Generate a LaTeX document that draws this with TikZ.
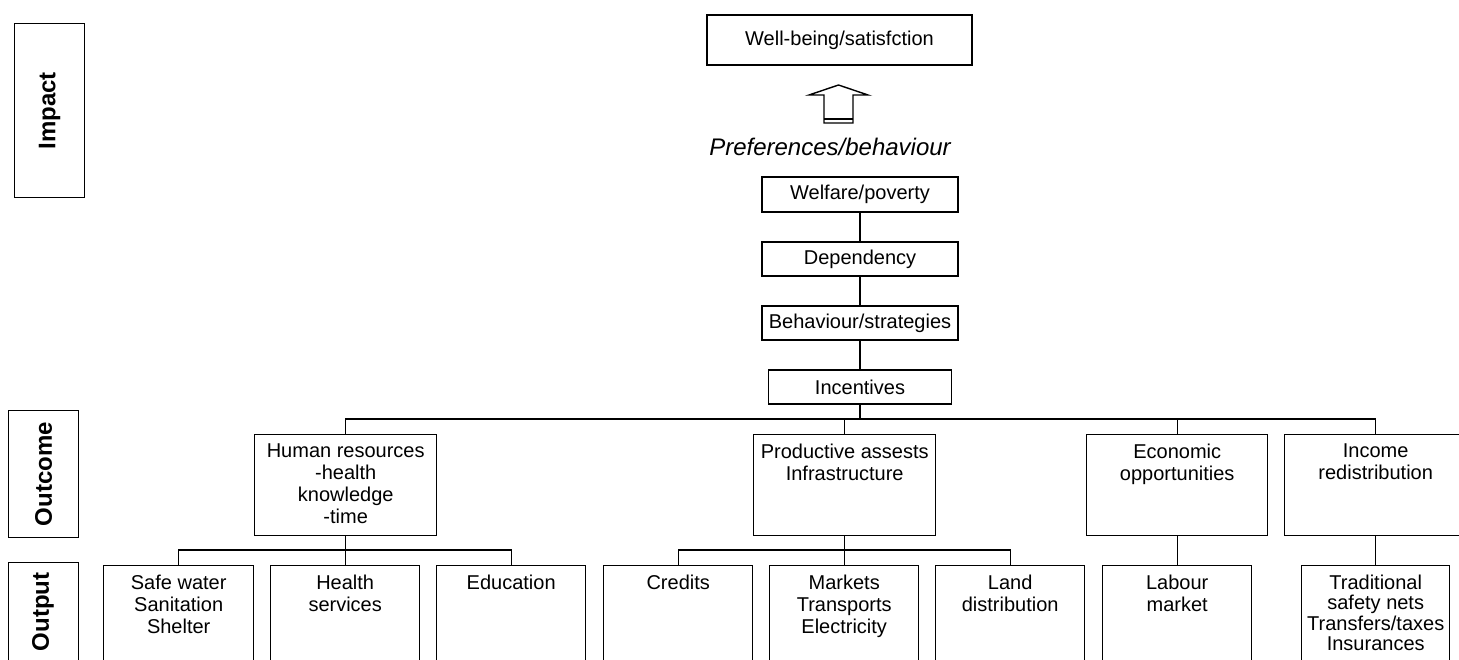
\documentclass[tikz,border=0pt]{standalone}
\usepackage{fontspec}
\setmainfont{Liberation Sans}
\begin{document}
\begin{tikzpicture}[x=1pt,y=-1pt,
  box/.style={draw,line width=1.4pt,inner sep=0pt,anchor=north west},
  sbox/.style={draw,line width=1.4pt,inner sep=0pt,font=\fontsize{20}{22}\selectfont},
  txt/.style={font=\fontsize{20}{22}\selectfont,align=center,anchor=north,inner sep=0pt,yshift=-9.5pt},
  lbl/.style={font=\fontsize{24}{26}\selectfont\bfseries,rotate=90,inner sep=0pt},
  conn/.style={line width=1.4pt}]
\useasboundingbox (0,0) rectangle (1459,660);
\clip (0,0) rectangle (1459,660);

% left level labels
\node[box,minimum width=70,minimum height=174] (impB) at (14,23) {};
\node[lbl] (impT) at (impB.center) {Impact};
\node[box,minimum width=70,minimum height=127] (outcB) at (8,410) {};
\node[lbl] (outcT) at (outcB.center) {Outcome};
\node[box,minimum width=70,minimum height=140] (outpB) at (8,562) {};
\node[lbl] (outpT) at (43,612) {Output};

% top
\node[sbox,minimum width=265,minimum height=50] (wb) at (839.5,40) {Well-being/satisfction};
\coordinate (arr) at (838.5,85);
\draw[line width=1.4pt,line join=miter] (arr) -- ++(29.5,10) -- ++(-15,0) -- ++(0,28) -- ++(-29,0) -- ++(0,-28) -- ++(-15,0) -- cycle;
\draw[line width=2.2pt] ([xshift=-14.5pt,yshift=-34.3pt]arr) -- ([xshift=14.5pt,yshift=-34.3pt]arr);
\node[font=\fontsize{24}{26}\selectfont\itshape,inner sep=0pt] (pref) at (830,147) {Preferences/behaviour};

\node[sbox,minimum width=196,minimum height=35] (wel) at (860,194.5) {Welfare/poverty};
\node[sbox,minimum width=196,minimum height=34] (dep) at (860,259) {Dependency};
\node[sbox,minimum width=196,minimum height=34] (beh) at (860,323) {Behaviour/strategies};
\node[sbox,minimum width=183,minimum height=34] (inc) at (860,387) {Incentives};
\draw[conn] (wel.south) -- (dep.north);
\draw[conn] (dep.south) -- (beh.north);
\draw[conn] (beh.south) -- (inc.north);

% outcome boxes
\node[box,minimum width=182,minimum height=101] (hr) at (254,434) {};
\node[box,minimum width=182,minimum height=101] (pa) at (753,434) {};
\node[box,minimum width=181,minimum height=101] (eo) at (1086,434) {};
\node[box,minimum width=182,minimum height=101] (ir) at (1284,434) {};
\node[txt] (hrT) at (hr.north) {Human resources\\-health\\knowledge\\-time};
\node[txt] (paT) at (pa.north) {Productive assests\\Infrastructure};
\node[txt] (eoT) at (eo.north) {Economic\\opportunities};
\node[txt] (irT) at (ir.north) {Income\\redistribution};

% output boxes
\node[box,minimum width=150,minimum height=140] (sw) at (103,565) {};
\node[box,minimum width=149,minimum height=140] (hs) at (270,565) {};
\node[box,minimum width=149,minimum height=140] (ed) at (436,565) {};
\node[box,minimum width=149,minimum height=140] (cr) at (603,565) {};
\node[box,minimum width=149,minimum height=140] (mk) at (769,565) {};
\node[box,minimum width=149,minimum height=140] (ld) at (935,565) {};
\node[box,minimum width=149,minimum height=140] (lm) at (1102,565) {};
\node[box,minimum width=148,minimum height=140] (ts) at (1301,565) {};
\node[txt] (swT) at (sw.north) {Safe water\\Sanitation\\Shelter};
\node[txt] (hsT) at (hs.north) {Health\\services};
\node[txt] (edT) at (ed.north) {Education};
\node[txt] (crT) at (cr.north) {Credits};
\node[txt] (mkT) at (mk.north) {Markets\\Transports\\Electricity};
\node[txt] (ldT) at (ld.north) {Land\\distribution};
\node[txt] (lmT) at (lm.north) {Labour\\market};
\node[txt,font=\fontsize{20}{20.5}\selectfont] (tsT) at (ts.north) {Traditional\\safety nets\\Transfers/taxes\\Insurances};

% tree connectors
\coordinate (bar) at (0,419);
\draw[conn] (inc.south) -- (inc.south |- bar);
\draw[conn] (hr.north) |- (inc.south |- bar) -| (ir.north);
\draw[conn] (pa.north) -- (pa.north |- bar);
\draw[conn] (eo.north) -- (eo.north |- bar);

\coordinate (bar2) at (0,550);
\draw[conn] (hr.south) -- (hr.south |- bar2);
\draw[conn] (sw.north) |- (hr.south |- bar2) -| (ed.north);
\draw[conn] (hs.north) -- (hs.north |- bar2);
\draw[conn] (pa.south) -- (pa.south |- bar2);
\draw[conn] (cr.north) |- (pa.south |- bar2) -| (ld.north);
\draw[conn] (mk.north) -- (mk.north |- bar2);
\draw[conn] (eo.south) -- (eo.south |- lm.north);
\draw[conn] (ir.south) -- (ir.south |- ts.north);
\end{tikzpicture}
\end{document}
